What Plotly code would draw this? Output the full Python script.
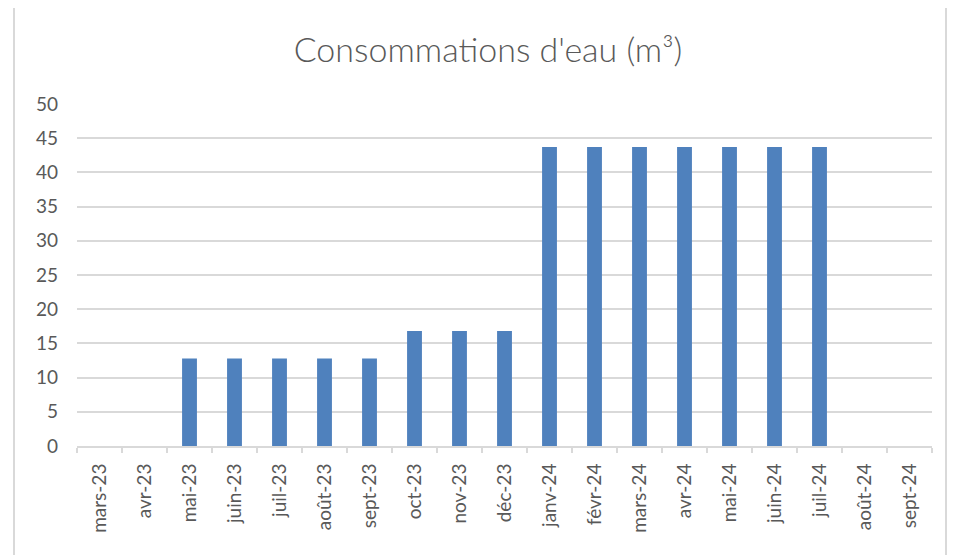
import plotly.graph_objects as go

months = ["mars-23", "avr-23", "mai-23", "juin-23", "juil-23", "août-23", "sept-23",
          "oct-23", "nov-23", "déc-23", "janv-24", "févr-24", "mars-24", "avr-24",
          "mai-24", "juin-24", "juil-24", "août-24", "sept-24"]
consommation = [0, 0, 12.8, 12.8, 12.8, 12.8, 12.8, 16.8, 16.8, 16.8,
                43.7, 43.7, 43.7, 43.7, 43.7, 43.7, 43.7, 0, 0]
y_ticks = [0, 5, 10, 15, 20, 25, 30, 35, 40, 45, 50]

OFF = 8  # default page body margin
W, H = 953, 547
ML, MR, MT, MB = 69, 29, 96, 109
PW, PH = W - ML - MR, H - MT - MB

def px_x(p):
    return (p - OFF - ML) / PW

def px_y(p):
    return (OFF + H - MB - p) / PH

FONT = "Lato"
GREY = "#595959"
LINE = "#d9d9d9"

fig = go.Figure(go.Bar(
    x=months, y=consommation,
    marker=dict(color="#4f81bd", line=dict(width=0)),
    width=0.33,
))

fig.update_layout(
    width=W, height=H,
    margin=dict(l=ML, r=MR, t=MT, b=MB),
    paper_bgcolor="white", plot_bgcolor="white",
    showlegend=False,
    title=dict(text="Consommations d'eau (m³)", x=px_x(488), xref="paper", xanchor="center",
               y=1 - (50 - OFF) / H, yref="container", yanchor="middle",
               font=dict(family=FONT, size=34, color=GREY, weight=300)),
    font=dict(family=FONT, color=GREY),
    shapes=[dict(type="rect", xref="paper", yref="paper",
                 x0=px_x(14), x1=px_x(946), y0=px_y(570), y1=px_y(7),
                 line=dict(color=LINE, width=2), fillcolor="rgba(0,0,0,0)", layer="below")],
)

fig.update_xaxes(
    type="category", tickangle=-90, showgrid=False,
    showline=True, linecolor=LINE, linewidth=2,
    ticks="outside", tickson="boundaries", ticklen=5, tickcolor=LINE, tickwidth=2,
    tickfont=dict(family=FONT, size=19, color=GREY),
    ticklabelstandoff=8,
)
fig.update_yaxes(
    range=[0, 50], tickvals=y_ticks, showgrid=True, gridcolor=LINE, gridwidth=2,
    zeroline=False, showline=False, ticks="",
    tickfont=dict(family=FONT, size=19, color=GREY),
    ticklabelstandoff=18,
)

fig.write_html("out.html")
